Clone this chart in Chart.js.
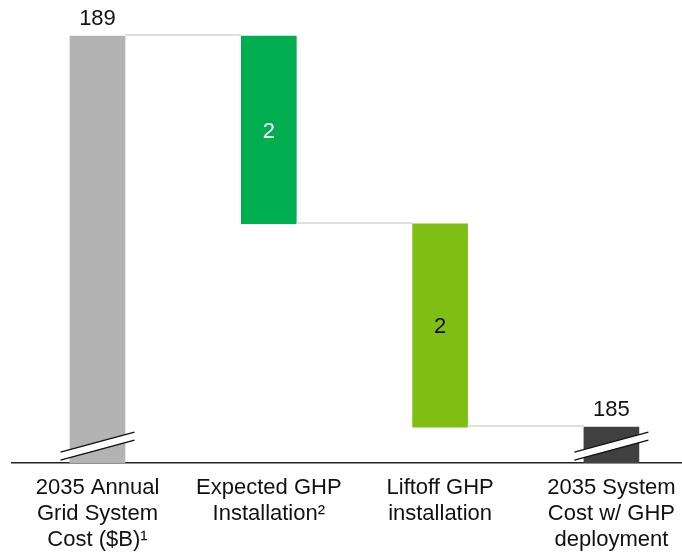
<!DOCTYPE html>
<html>
<head>
<meta charset="utf-8">
<script src="https://cdn.jsdelivr.net/npm/chart.js@4/dist/chart.umd.min.js"></script>
<style>
  html, body { margin: 0; padding: 0; background: #fff; }
  #wrap { width: 682px; height: 553px; }
</style>
</head>
<body>
<div id="wrap"><canvas id="waterfall"></canvas></div>
<script>
// categories and values
const categories = [
    ['2035 Annual', 'Grid System', 'Cost ($B)\u00b9'],
    ['Expected GHP', 'Installation\u00b2'],
    ['Liftoff GHP', 'installation'],
    ['2035 System', 'Cost w/ GHP', 'deployment']
];
const barStarts = [0, 187.08, 185, 0];
const barEnds = [189, 189, 187.08, 185];
const valueLabels = ['189', '2', '2', '185'];
const connectorLevels = [189, 187.08, 185];
const barColors = ['#b3b3b3', '#00ae50', '#7fbf13', '#404040'];
const labelInside = [false, true, true, false];
const labelColors = ['#111', '#fff', '#111', '#111'];
const brokenBars = [0, 3];

const FONT = "'Liberation Sans', Arial, sans-serif";

const decorPlugin = {
    id: 'waterfallDecor',
    afterDatasetsDraw(chart) {
        const ctx = chart.ctx;
        const meta = chart.getDatasetMeta(0);
        const yScale = chart.scales.y;
        const area = chart.chartArea;
        ctx.save();

        // connector lines between bars
        ctx.strokeStyle = '#d4d4d4';
        ctx.lineWidth = 1.5;
        connectorLevels.forEach((level, i) => {
            const a = meta.data[i];
            const b = meta.data[i + 1];
            const y = Math.round(yScale.getPixelForValue(level)) - 1;
            ctx.beginPath();
            ctx.moveTo(a.x + a.width / 2, y);
            ctx.lineTo(b.x - b.width / 2, y);
            ctx.stroke();
        });

        // axis break marks
        brokenBars.forEach(i => {
            const cx = meta.data[i].x;
            const x1 = cx - 37, x2 = cx + 37;
            const yLow1 = area.bottom - 3, yLow2 = area.bottom - 23;
            const gap = 8;
            ctx.fillStyle = '#fff';
            ctx.beginPath();
            ctx.moveTo(x1, yLow1);
            ctx.lineTo(x2, yLow2);
            ctx.lineTo(x2, yLow2 - gap);
            ctx.lineTo(x1, yLow1 - gap);
            ctx.closePath();
            ctx.fill();
            ctx.strokeStyle = '#111';
            ctx.lineWidth = 1.5;
            ctx.beginPath();
            ctx.moveTo(x1, yLow1);
            ctx.lineTo(x2, yLow2);
            ctx.moveTo(x1, yLow1 - gap);
            ctx.lineTo(x2, yLow2 - gap);
            ctx.stroke();
        });

        // value labels
        ctx.font = '22px ' + FONT;
        ctx.textAlign = 'center';
        ctx.textBaseline = 'middle';
        meta.data.forEach((bar, i) => {
            const top = Math.min(bar.y, bar.base);
            const bottom = Math.max(bar.y, bar.base);
            ctx.fillStyle = labelColors[i];
            if (labelInside[i]) {
                ctx.fillText(valueLabels[i], bar.x, (top + bottom) / 2 + 2);
            } else {
                ctx.fillText(valueLabels[i], bar.x, top - 17);
            }
        });
        ctx.restore();
    }
};

new Chart(document.getElementById('waterfall'), {
    type: 'bar',
    data: {
        datasets: [{
            data: categories.map((c, i) => ({ x: i, y: [barStarts[i], barEnds[i]] })),
            backgroundColor: barColors,
            borderWidth: 0,
            barThickness: 55
        }]
    },
    options: {
        responsive: true,
        maintainAspectRatio: false,
        animation: false,
        layout: { padding: { left: 12, right: 0, top: 0, bottom: -12 } },
        plugins: { legend: { display: false }, tooltip: { enabled: false } },
        scales: {
            x: {
                type: 'linear',
                offset: false,
                min: -0.499,
                max: 3.412,
                grid: { display: false, drawTicks: false, offset: false },
                border: { display: true, color: '#222', width: 1.5 },
                afterBuildTicks(scale) {
                    scale.ticks = categories.map((c, i) => ({ value: i }));
                },
                afterFit(scale) {
                    // labels fit in the page already, no extra side padding
                    scale.paddingLeft = 0;
                    scale.paddingRight = 0;
                },
                ticks: {
                    autoSkip: false,
                    maxRotation: 0,
                    padding: 12,
                    color: '#111',
                    font: { family: FONT, size: 22, lineHeight: 1.18 },
                    callback: (v) => categories[v]
                }
            },
            y: {
                display: false,
                min: 184.632,
                max: 189.368
            }
        }
    },
    plugins: [decorPlugin]
});
</script>
</body>
</html>
